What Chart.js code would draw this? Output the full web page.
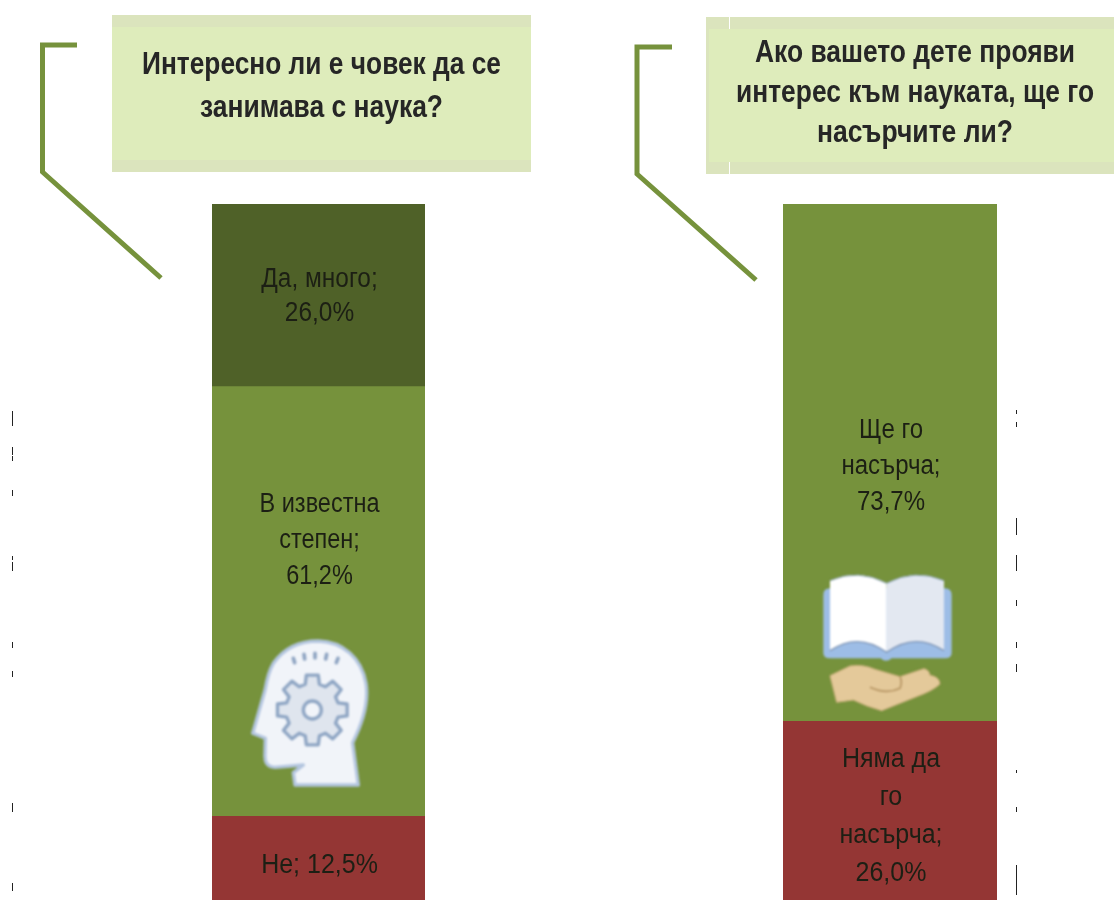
<!DOCTYPE html>
<html lang="bg"><head><meta charset="utf-8">
<script src="https://cdn.jsdelivr.net/npm/chart.js@4"></script>
<style>
html,body{margin:0;padding:0;background:#fff;width:1114px;height:900px;overflow:hidden}
canvas{position:absolute;display:block;filter:blur(.45px)}
svg{position:absolute;left:0;top:0}
#leftBar{left:212px;top:204px}
#rightBar{left:783px;top:204px}
.soft{filter:blur(.9px)}
.titles{filter:blur(.4px)}
</style></head><body>
<canvas id="leftBar" width="213" height="700" style="width:213px;height:700px"></canvas>
<canvas id="rightBar" width="214" height="700" style="width:214px;height:700px"></canvas>
<svg id="deco" width="1114" height="900" viewBox="0 0 1114 900" font-family="Liberation Sans, Arial, sans-serif">
  <rect x="112" y="15" width="419" height="157" fill="#dbe4bd"/>
  <rect x="112" y="27" width="419" height="133" fill="#deecbb"/>
  <rect x="706" y="17" width="408" height="157" fill="#dbe4bd"/>
  <rect x="709" y="29" width="405" height="133" fill="#deecbb"/>
  <rect x="729" y="17" width="1" height="12" fill="#fff"/>
  <rect x="729" y="162" width="1" height="12" fill="#fff"/>
  <polyline points="77,45 42.5,45 42.5,172 161,278" fill="none" stroke="#76923c" stroke-width="5"/>
  <polyline points="672,47 637,47 637,174 756,280" fill="none" stroke="#76923c" stroke-width="5"/>
  <g class="titles" fill="#262626" font-weight="700" font-size="32" text-anchor="middle">
    <text x="321.5" y="74" textLength="359" lengthAdjust="spacingAndGlyphs">Интересно ли е човек да се</text>
    <text x="321.5" y="117" textLength="243" lengthAdjust="spacingAndGlyphs">занимава с наука?</text>
    <text x="915" y="62" textLength="320" lengthAdjust="spacingAndGlyphs">Ако вашето дете прояви</text>
    <text x="915" y="102" textLength="358" lengthAdjust="spacingAndGlyphs">интерес към науката, ще го</text>
    <text x="915" y="142" textLength="196" lengthAdjust="spacingAndGlyphs">насърчите ли?</text>
  </g>
  <g id="specks" fill="#222"></g>
</svg>
<svg id="icons" class="soft" width="1114" height="900" viewBox="0 0 1114 900">
  <g transform="translate(230 630) scale(.3333)">
    <path d="M130 100 C165 50 215 33 265 33 C340 35 395 85 408 160 C418 225 395 285 368 338 L385 465 L195 465 L190 428 L220 405 L135 412 C110 412 103 395 105 370 L106 325 L68 310 L105 180 C110 150 118 120 130 100 Z" fill="#f1f4f9" stroke="#b3c5df" stroke-width="10" stroke-linejoin="round"/>
    <path id="gear" fill="#dfe5ee" stroke="#8fa6c4" stroke-width="10" stroke-linejoin="round"/>
    <circle cx="247" cy="240" r="27" fill="#f1f4f9" stroke="#8fa6c4" stroke-width="10"/>
    <g stroke="#8ea4c2" stroke-width="11" stroke-linecap="round">
      <path d="M190 85 L194 98"/><path d="M222 73 L224 87"/><path d="M255 70 L255 84"/><path d="M290 73 L287 87"/><path d="M324 85 L319 98"/>
    </g>
  </g>
  <g transform="translate(800 560) scale(.3333)">
    <path d="M70 105 Q70 85 90 85 L435 85 Q455 85 455 105 L455 280 Q455 295 435 295 L275 295 Q258 310 242 295 L90 295 Q70 295 70 280 Z" fill="#9dbde6"/>
    <path d="M90 62 Q175 25 260 70 L260 277 Q175 215 90 272 Z" fill="#fff"/>
    <path d="M260 70 Q345 25 432 62 L432 272 Q345 215 260 277 Z" fill="#e3e8f1"/>
    <path d="M90 62 Q175 25 260 70 Q345 25 432 62" fill="none" stroke="#8ea6c4" stroke-width="3"/>
    <path d="M90 272 Q175 215 260 277 Q345 215 432 272" fill="none" stroke="#7f95b5" stroke-width="4"/>
    <path d="M90 347 L150 318 Q190 312 225 328 L300 350 L372 326 Q388 330 390 346 Q418 350 420 372 Q400 392 350 410 L245 452 Q200 440 160 420 L110 427 Z" fill="#e4c99a" stroke="#cdae7d" stroke-width="3" stroke-linejoin="round"/>
    <path d="M210 382 Q260 405 300 385 Q308 365 300 350" fill="none" stroke="#b69563" stroke-width="5"/>
  </g>
</svg>
<script>
// ---- data ----
const leftValues  = [12.5, 61.2, 26.0];   // Не, В известна степен, Да, много
const rightValues = [26.0, 73.7];         // Няма да го насърча, Ще го насърча
const axisTotalLeft = 99.7;
const axisTotalRight = 99.7;
const leftLabels  = [["Не; 12,5%"], ["В известна","степен;","61,2%"], ["Да, много;","26,0%"]];
const rightLabels = [["Няма да","го","насърча;","26,0%"], ["Ще го","насърча;","73,7%"]];
// ---- styles ----
const leftColors  = ["#943634", "#76923c", "#4f6128"];
const rightColors = ["#943634", "#76923c"];
const leftOffsets  = [49, 118, 76];        // first-line centre below segment top
const rightOffsets = [38, 227];
const leftLine  = [36, 36, 34];
const rightLine = [38, 36];
const leftSquash = [.926, .87, .905];
const rightSquash = [.926, .89];

const segmentText = {
  id: 'segmentText',
  afterDatasetsDraw(chart, _a, o) {
    const c = chart.ctx;
    chart.data.datasets.forEach((ds, i) => {
      const bar = chart.getDatasetMeta(i).data[0];
      const top = Math.min(bar.y, bar.base);
      c.save();
      c.fillStyle = '#1c1f14';
      c.font = '27px "Liberation Sans", Arial, sans-serif';
      c.textAlign = 'center';
      c.textBaseline = 'middle';
      o.lines[i].forEach((t, k) => {
        c.save();
        c.translate(bar.x + 1, top + o.offsets[i] + k * o.spacing[i]);
        c.scale(o.squash[i], 1);
        c.fillText(t, 0, 0);
        c.restore();
      });
      c.restore();
    });
  }
};

function stacked(id, values, total, colors, lines, offsets, spacing, squash) {
  return new Chart(document.getElementById(id), {
    type: 'bar',
    data: {
      labels: [''],
      datasets: values.map((v, i) => ({
        data: [v], backgroundColor: colors[i], borderWidth: 0,
        barPercentage: 1, categoryPercentage: 1
      }))
    },
    options: {
      responsive: false, animation: false,
      layout: { padding: 0 },
      plugins: { legend: { display: false }, tooltip: { enabled: false },
        segmentText: { lines, offsets, spacing, squash } },
      scales: {
        x: { stacked: true, display: false },
        y: { stacked: true, display: false, min: 0, max: total }
      }
    },
    plugins: [segmentText]
  });
}
stacked('leftBar', leftValues, axisTotalLeft, leftColors, leftLabels, leftOffsets, leftLine, leftSquash);
stacked('rightBar', rightValues, axisTotalRight, rightColors, rightLabels, rightOffsets, rightLine, rightSquash);

// decorative gear outline
(function () {
  const cx = 247, cy = 240, R = 106, r = 80, n = 8; let d = '';
  for (let i = 0; i < n; i++) {
    const a = i * 2 * Math.PI / n - Math.PI / 2, s = 0.17, g = 0.22;
    [[r, a - g - .05], [R, a - s], [R, a + s], [r, a + g + .05]].forEach((p, j) => {
      d += ((i === 0 && j === 0) ? 'M' : 'L') + (cx + p[0] * Math.cos(p[1])).toFixed(1) + ' ' + (cy + p[0] * Math.sin(p[1])).toFixed(1);
    });
  }
  document.getElementById('gear').setAttribute('d', d + 'Z');
})();
// scan specks at both margins
const speckRuns = [[12,411,15],[12,447,8],[12,456,5],[12,490,6],[12,556,4],[12,562,9],[12,642,6],[12,671,6],[12,803,9],[12,883,8],
                   [1016,410,4],[1016,422,5],[1016,518,17],[1016,555,16],[1016,600,6],[1016,642,6],[1016,664,8],[1016,770,3],[1016,807,5],[1016,865,30]];
const ns = 'http://www.w3.org/2000/svg', sp = document.getElementById('specks');
speckRuns.forEach(r => { const e = document.createElementNS(ns, 'rect');
  e.setAttribute('x', r[0]); e.setAttribute('y', r[1]); e.setAttribute('width', 1); e.setAttribute('height', r[2]); sp.appendChild(e); });
</script>
</body></html>
